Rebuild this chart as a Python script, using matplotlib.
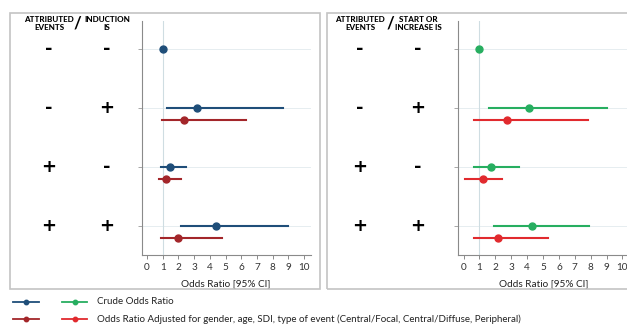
import numpy as np
import matplotlib
matplotlib.use("Agg")
import matplotlib.pyplot as plt
from matplotlib.patches import Rectangle
from matplotlib.lines import Line2D

plt.rcParams['font.family'] = ['Lato', 'DejaVu Sans']

# -----------------------------
# Data
# -----------------------------
ROWS = [0, 1, 2, 3]
ATTRIBUTED = ["-", "-", "+", "+"]
INDUCTION = ["-", "+", "-", "+"]
START_INCREASE = ["-", "+", "-", "+"]

# left panel: induction IS
left_crude_or = [1.0, 3.2, 1.46, 4.4]
left_crude_lo = [0.97, 1.27, 0.89, 2.16]
left_crude_hi = [1.03, 8.66, 2.46, 8.98]
left_adj_or = [np.nan, 2.36, 1.22, 1.96]
left_adj_lo = [np.nan, 0.96, 0.76, 0.89]
left_adj_hi = [np.nan, 6.3, 2.16, 4.77]

# right panel: start or increase IS
right_crude_or = [1.0, 4.15, 1.71, 4.29]
right_crude_lo = [0.97, 1.6, 0.66, 1.91]
right_crude_hi = [1.03, 9.0, 3.47, 7.9]
right_adj_or = [np.nan, 2.75, 1.25, 2.16]
right_adj_lo = [np.nan, 0.66, 0.08, 0.66]
right_adj_hi = [np.nan, 7.85, 2.41, 5.29]

XTICKS = list(range(0, 11))
XLABEL = "Odds Ratio [95% CI]"
LEGEND_CRUDE = "Crude Odds Ratio"
LEGEND_ADJ = ("Odds Ratio Adjusted for gender, age, SDI, type of event "
              "(Central/Focal, Central/Diffuse, Peripheral)")

BLUE = "#1f4e79"
DARK_RED = "#a3262a"
GREEN = "#27ae60"
RED = "#e12a2e"

W, H = 627, 324


def fx(px):
    return px / W


def fy(py):
    return 1 - py / H


# -----------------------------
# One forest panel
# -----------------------------
def draw_panel(fig, rect, crude, adj, c_crude, c_adj):
    ax = fig.add_axes(rect)
    ax.set_xlim(-0.33, 10.4)
    ax.set_ylim(3.49, -0.47)

    for r in ROWS:
        ax.axhline(r, color="#e6edf0", lw=0.7, zorder=0)
    ax.axvline(1, color="#cfdde2", lw=0.8, zorder=0)

    est, lo, hi = crude
    for r in ROWS:
        ax.plot([lo[r], hi[r]], [r, r], color=c_crude, lw=1.5, zorder=2)
    ax.plot(est, ROWS, "o", color=c_crude, ms=5, zorder=3)

    est, lo, hi = adj
    off = 0.2
    for r in ROWS:
        ax.plot([lo[r], hi[r]], [r + off, r + off], color=c_adj, lw=1.5, zorder=2)
    ax.plot(est, [r + off for r in ROWS], "o", color=c_adj, ms=5, zorder=3)

    ax.set_xticks(XTICKS)
    ax.set_yticks(ROWS)
    ax.set_yticklabels([])
    ax.tick_params(axis="x", length=3, width=0.6, color="#777777",
                   labelsize=7.2, labelcolor="#333333", pad=3)
    ax.tick_params(axis="y", length=3, width=0.6, color="#999999")
    for s in ["top", "right"]:
        ax.spines[s].set_visible(False)
    for s in ["left", "bottom"]:
        ax.spines[s].set_color("#8a8a8a")
        ax.spines[s].set_linewidth(0.8)
    ax.set_xlabel(XLABEL, fontsize=7.2, color="#222222", labelpad=5)
    return ax


# -----------------------------
# Row labels and headers
# -----------------------------
def draw_labels(fig, x1, x2, xs, head2):
    hy = fy(23.5)
    fig.text(fx(x1), hy, "ATTRIBUTED\nEVENTS", ha="center", va="center",
             fontsize=5.8, fontweight="black", linespacing=1.1)
    fig.text(fx(xs), hy, "/", ha="center", va="center",
             fontsize=12, fontweight="bold")
    fig.text(fx(x2), hy, head2, ha="center", va="center",
             fontsize=5.8, fontweight="black", linespacing=1.1)
    row_px = [49, 108, 167, 226]
    col2 = INDUCTION if head2.startswith("INDUCTION") else START_INCREASE
    for i, py in enumerate(row_px):
        for xc, s in [(x1, ATTRIBUTED[i]), (x2, col2[i])]:
            fig.text(fx(xc), fy(py), s, ha="center", va="center",
                     fontsize=13, fontweight="bold", family="DejaVu Sans")


def main():
    fig = plt.figure(figsize=(W / 100, H / 100), dpi=100)

    # panel frames
    for x0, x1 in [(10, 320), (327, 640)]:
        fig.add_artist(Rectangle((fx(x0), fy(289)), fx(x1 - x0), (289 - 13) / H,
                                 transform=fig.transFigure, fill=False,
                                 edgecolor="#c4c4c4", lw=1.2))

    draw_panel(fig, [fx(141.7), fy(255), fx(168.8), 234 / H],
               (left_crude_or, left_crude_lo, left_crude_hi),
               (left_adj_or, left_adj_lo, left_adj_hi), BLUE, DARK_RED)
    draw_panel(fig, [fx(458.3), fy(255), fx(170.5), 234 / H],
               (right_crude_or, right_crude_lo, right_crude_hi),
               (right_adj_or, right_adj_lo, right_adj_hi), GREEN, RED)

    draw_labels(fig, 49, 107, 77, "INDUCTION\nIS")
    draw_labels(fig, 360, 418, 390, "START OR\nINCREASE IS")

    # legend
    for py, c1, c2, label in [(302, BLUE, GREEN, LEGEND_CRUDE),
                              (319, DARK_RED, RED, LEGEND_ADJ)]:
        for xa, xb, c in [(13, 39, c1), (62, 87, c2)]:
            fig.add_artist(Line2D([fx(xa), fx(xb)], [fy(py), fy(py)],
                                  transform=fig.transFigure, color=c, lw=1.3))
            fig.add_artist(Line2D([fx((xa + xb) / 2)], [fy(py)], marker="o",
                                  transform=fig.transFigure, color=c, ms=3.2))
        fig.text(fx(97), fy(py), label, ha="left", va="center",
                 fontsize=7, color="#222222")

    fig.savefig("out.png", dpi=100)


if __name__ == "__main__":
    main()
